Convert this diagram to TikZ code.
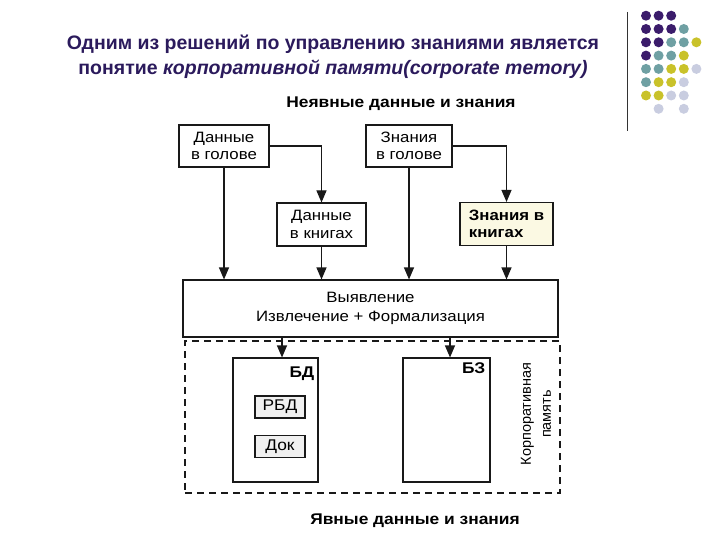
\documentclass[tikz,border=0pt]{standalone}
\usepackage{fontspec}
\setmainfont{Liberation Sans}
\newfontfamily\diagfont[FakeStretch=1.12]{Liberation Sans}
\usepackage{tikz}
\usetikzlibrary{positioning,arrows.meta}
\definecolor{titlecol}{HTML}{2B1A5C}
\definecolor{dotP}{HTML}{3B1C6B}
\definecolor{dotT}{HTML}{6FA0A3}
\definecolor{dotY}{HTML}{C9C22A}
\definecolor{dotG}{HTML}{C9CDE0}
\definecolor{bookfill}{HTML}{FBF9E3}

\begin{document}
\begin{tikzpicture}[
  x=1pt, y=-1pt,
  every node/.style={inner sep=0pt},
  box/.style={draw=black!90, line width=1.1pt, fill=white, align=center,
    font=\diagfont\fontsize{15}{17.5}\selectfont},
  small/.style={draw=black!90, line width=1.4pt, fill=black!6,
    minimum width=50pt, minimum height=22pt, font=\diagfont\fontsize{15.5}{17}\selectfont},
  head/.style={font=\diagfont\fontsize{15.5}{18}\selectfont\bfseries},
  arr/.style={line width=1.1pt, black!90, -{Triangle[length=12pt,width=10pt]}}]

\useasboundingbox (0,0) rectangle (720,540);

% title and dots
\node[align=center, text=titlecol, font=\fontsize{19.5}{25}\selectfont\bfseries] (title) at (333,57)
  {Одним из решений по управлению знаниями является\\понятие \textit{корпоративной памяти(corporate memory)}};
\draw[black!80, line width=1pt] (627,12) -- (627,131);
\foreach \row [count=\r] in {{P,P,P},{P,P,P,T},{P,P,T,T,Y},{P,T,T,Y},{T,T,Y,Y,G},{T,Y,Y,G},{Y,Y,G,G}}{
  \foreach \cc [count=\c] in \row {\fill[dot\cc] (633.4+12.6*\c,2.4+13.3*\r) circle (5);}}
\foreach \c in {2,4}{\fill[dotG] (633.4+12.6*\c,108.8) circle (5);}

\node[head] (implicit) at (401,104) {Неявные данные и знания};

% sources
\node[box, minimum width=90pt, minimum height=42pt] (dg) at (224,146) {Данные\\в голове};
\node[box, minimum width=86pt, minimum height=42pt] (zg) at (409,146) {Знания\\в голове};
\node[box, minimum width=89pt, minimum height=43pt] (dk) at (321.5,224.5) {Данные\\в книгах};
\node[box, fill=bookfill, minimum width=93pt, minimum height=43pt, align=left,
  font=\diagfont\fontsize{15}{17.5}\selectfont\bfseries] (zk) at (506.5,224) {Знания в\\книгах\hspace{20pt}};

\node[box, minimum width=375pt, minimum height=57pt, font=\diagfont\fontsize{15}{19}\selectfont] (vyav) at (370.5,308.5)
  {Выявление\\Извлечение + Формализация};

\draw[arr] (dg.south) -- (dg.south |- vyav.north);
\draw[arr] (dg.east) -| (dk.north);
\draw[arr] (dk.south) -- (dk.south |- vyav.north);
\draw[arr] (zg.south) -- (zg.south |- vyav.north);
\draw[arr] (zg.east) -| (zk.north);
\draw[arr] (zk.south) -- (zk.south |- vyav.north);

% corporate memory
\node[draw=black!90, line width=1.1pt, dashed, dash pattern=on 7pt off 5pt,
  minimum width=375pt, minimum height=152pt] (kp) at (372.5,417) {};
\node[box, minimum width=85pt, minimum height=124pt] (bd) at (275.5,420) {};
\node[box, minimum width=87pt, minimum height=124pt] (bz) at (446.5,420) {};
\node[head, anchor=north east] (bdlab) at ([xshift=-4pt,yshift=-9pt]bd.north east) {БД};
\node[head, anchor=north east] (bzlab) at ([xshift=-5pt,yshift=-5pt]bz.north east) {БЗ};
\node[small] (rbd) at (280,407) {РБД};
\node[small] (dok) at (280,446.5) {Док};
\node[align=center, rotate=90, font=\fontsize{14.5}{20}\selectfont] (kplab) at (536,414)
  {Корпоративная\\память};

\coordinate (bdin) at ([xshift=6.5pt]bd.north);
\coordinate (bzin) at ([xshift=3.5pt]bz.north);
\draw[arr] (bdin |- vyav.south) -- (bdin);
\draw[arr] (bzin |- vyav.south) -- (bzin);

\node[head] (explicit) at (415,521) {Явные данные и знания};
\end{tikzpicture}
\end{document}
